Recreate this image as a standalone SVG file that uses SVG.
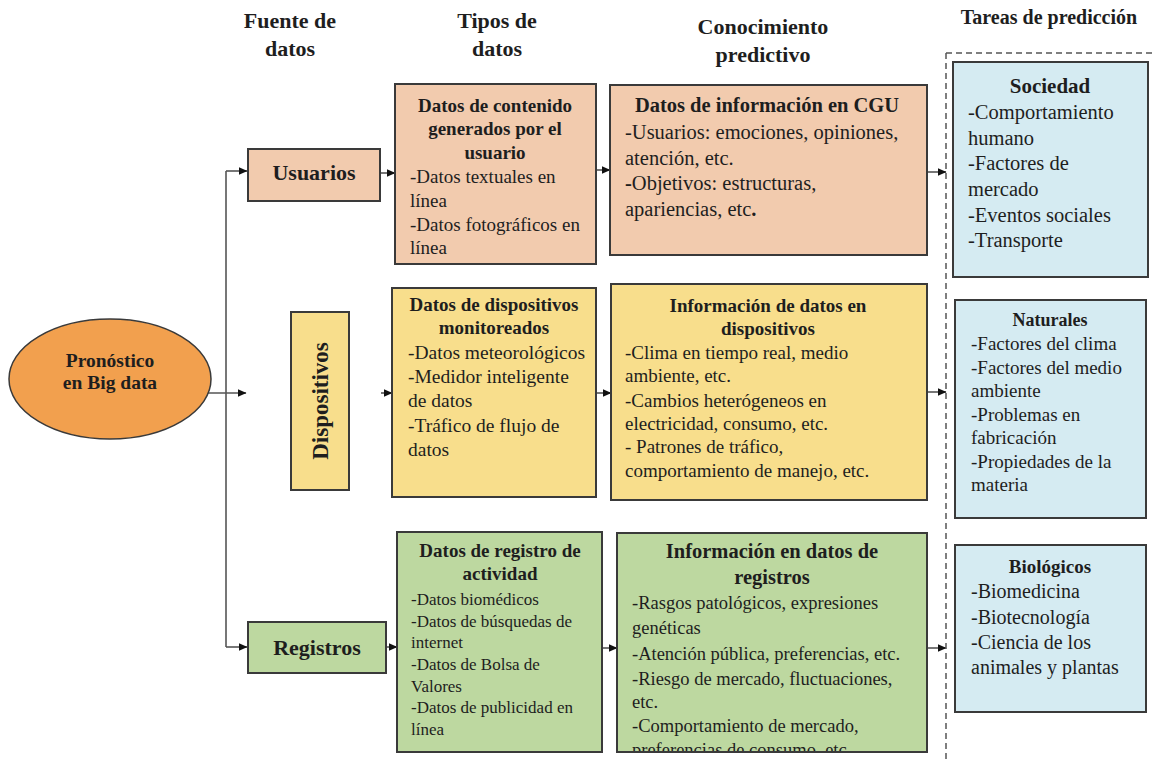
<svg xmlns="http://www.w3.org/2000/svg" width="1155" height="763" viewBox="0 0 1155 763">
<style>
text{font-family:"Liberation Serif","Times New Roman",serif;fill:#1e1e1e}
.hd{font-size:22px;font-weight:bold;text-anchor:middle}
.b{font-weight:bold;text-anchor:middle}
.box{stroke:#3a3a3a;stroke-width:2}
.or{fill:#F2CBAE}
.ye{fill:#F8DE8C}
.gr{fill:#BDD8A0}
.bl{fill:#D5EBF2}
.ln{fill:none;stroke:#555;stroke-width:1.6}
</style>
<defs>
<marker id="ar" markerWidth="9" markerHeight="8" refX="8.5" refY="4" orient="auto" markerUnits="userSpaceOnUse">
<path d="M0,0 L9,4 L0,8 z" fill="#111"/>
</marker>
<clipPath id="clipG"><rect x="617" y="534" width="310" height="217"/></clipPath>
</defs>
<rect width="1155" height="763" fill="#fff"/>

<g id="headers">
<text class="hd" x="290" y="28">Fuente de</text>
<text class="hd" x="290" y="56">datos</text>
<text class="hd" x="497" y="28">Tipos de</text>
<text class="hd" x="497" y="56">datos</text>
<text class="hd" x="763" y="34">Conocimiento</text>
<text class="hd" x="763" y="62">predictivo</text>
<text class="hd" x="1049" y="24" style="font-size:20px">Tareas de predicción</text>
</g>

<g id="connectors">
<path class="ln" d="M226,171 V647"/>
<path class="ln" d="M226,171 H247" marker-end="url(#ar)"/>
<path class="ln" d="M226,647 H247" marker-end="url(#ar)"/>
<path class="ln" d="M208,393 H246" marker-end="url(#ar)"/>
<path class="ln" d="M381,173 H395" marker-end="url(#ar)"/>
<path class="ln" d="M596,170 H610" marker-end="url(#ar)"/>
<path class="ln" d="M927,172 H946" marker-end="url(#ar)"/>
<path class="ln" d="M381,393 H392" marker-end="url(#ar)"/>
<path class="ln" d="M596,393 H611" marker-end="url(#ar)"/>
<path class="ln" d="M927,392 H946" marker-end="url(#ar)"/>
<path class="ln" d="M386,647 H397" marker-end="url(#ar)"/>
<path class="ln" d="M602,648 H617" marker-end="url(#ar)"/>
<path class="ln" d="M927,648 H946" marker-end="url(#ar)"/>
<path d="M946,53 H1155 M946,53 V763" fill="none" stroke="#555" stroke-width="1.5" stroke-dasharray="6 4"/>
</g>

<g id="pronostico">
<ellipse cx="110" cy="379" rx="101" ry="60" fill="#F2A04E" stroke="#3a3a3a" stroke-width="1.5"/>
<text class="b" x="110" y="367" style="font-size:19.5px">Pronóstico</text>
<text class="b" x="110" y="389" style="font-size:19.5px">en Big data</text>
</g>

<g id="usuarios">
<rect class="box or" x="248" y="149" width="132" height="52"/>
<text class="b" x="314" y="180" style="font-size:22px">Usuarios</text>
</g>

<g id="dispositivos">
<rect class="box ye" x="291" y="312" width="58" height="178"/>
<text class="b" transform="translate(328,401) rotate(-90)" style="font-size:23px">Dispositivos</text>
</g>

<g id="registros">
<rect class="box gr" x="248" y="622" width="138" height="51"/>
<text class="b" x="317" y="655" style="font-size:22px">Registros</text>
</g>

<g id="tipos-cgu" style="font-size:19px">
<rect class="box or" x="395" y="84" width="201" height="180"/>
<text class="b" x="495" y="112">Datos de contenido</text>
<text class="b" x="495" y="135">generados por el</text>
<text class="b" x="495" y="159">usuario</text>
<text x="410" y="183">-Datos textuales en</text>
<text x="410" y="207">línea</text>
<text x="410" y="231">-Datos fotográficos en</text>
<text x="410" y="254">línea</text>
</g>

<g id="tipos-disp" style="font-size:19px">
<rect class="box ye" x="392" y="288" width="204" height="209"/>
<text class="b" x="494" y="311">Datos de dispositivos</text>
<text class="b" x="494" y="334">monitoreados</text>
<text x="408" y="359" style="font-size:19.5px">-Datos meteorológicos</text>
<text x="408" y="383" style="font-size:19.5px">-Medidor inteligente</text>
<text x="408" y="407" style="font-size:19.5px">de datos</text>
<text x="408" y="432" style="font-size:19.5px">-Tráfico de flujo de</text>
<text x="408" y="456" style="font-size:19.5px">datos</text>
</g>

<g id="tipos-reg" style="font-size:17px">
<rect class="box gr" x="397" y="532" width="205" height="220"/>
<text class="b" x="500" y="557" style="font-size:19px">Datos de registro de</text>
<text class="b" x="500" y="580" style="font-size:19px">actividad</text>
<text x="411" y="605">-Datos biomédicos</text>
<text x="411" y="627">-Datos de búsquedas de</text>
<text x="411" y="648">internet</text>
<text x="411" y="670">-Datos de Bolsa de</text>
<text x="411" y="692">Valores</text>
<text x="411" y="713">-Datos de publicidad en</text>
<text x="411" y="735">línea</text>
</g>

<g id="conoc-cgu" style="font-size:20.5px">
<rect class="box or" x="610" y="85" width="317" height="170"/>
<text class="b" x="767" y="112">Datos de información en CGU</text>
<text x="625" y="139">-Usuarios: emociones, opiniones,</text>
<text x="625" y="164.5">atención, etc.</text>
<text x="625" y="190"><tspan font-weight="bold">-</tspan>Objetivos: estructuras,</text>
<text x="625" y="216">apariencias, etc<tspan font-weight="bold">.</tspan></text>
</g>

<g id="conoc-disp" style="font-size:19px">
<rect class="box ye" x="611" y="284" width="316" height="216"/>
<text class="b" x="768" y="312">Información de datos en</text>
<text class="b" x="768" y="335">dispositivos</text>
<text x="625" y="359">-Clima en tiempo real, medio</text>
<text x="625" y="382">ambiente, etc.</text>
<text x="625" y="407">-Cambios heterógeneos en</text>
<text x="625" y="430">electricidad, consumo, etc.</text>
<text x="625" y="453">- Patrones de tráfico,</text>
<text x="625" y="477">comportamiento de manejo, etc.</text>
</g>

<g id="conoc-reg" style="font-size:18.5px">
<rect class="box gr" x="617" y="533" width="310" height="219"/>
<g clip-path="url(#clipG)">
<text class="b" x="772" y="558" style="font-size:20.5px">Información en datos de</text>
<text class="b" x="772" y="584" style="font-size:20.5px">registros</text>
<text x="632" y="609">-Rasgos patológicos, expresiones</text>
<text x="632" y="634">genéticas</text>
<text x="632" y="660">-Atención pública, preferencias, etc.</text>
<text x="632" y="685">-Riesgo de mercado, fluctuaciones,</text>
<text x="632" y="708">etc.</text>
<text x="632" y="732">-Comportamiento de mercado,</text>
<text x="632" y="756">preferencias de consumo, etc.</text>
</g>
</g>

<g id="sociedad" style="font-size:20.5px">
<rect class="box bl" x="953" y="62" width="195" height="215"/>
<text class="b" x="1050" y="93" style="font-size:21px">Sociedad</text>
<text x="968" y="119">-Comportamiento</text>
<text x="968" y="145">humano</text>
<text x="968" y="170">-Factores de</text>
<text x="968" y="196">mercado</text>
<text x="968" y="222">-Eventos sociales</text>
<text x="968" y="247">-Transporte</text>
</g>

<g id="naturales" style="font-size:19px">
<rect class="box bl" x="955" y="300" width="191" height="218"/>
<text class="b" x="1050" y="326" style="font-size:18px">Naturales</text>
<text x="971" y="350">-Factores del clima</text>
<text x="971" y="373.5">-Factores del medio</text>
<text x="971" y="397">ambiente</text>
<text x="971" y="420.5">-Problemas en</text>
<text x="971" y="444">fabricación</text>
<text x="971" y="467.5">-Propiedades de la</text>
<text x="971" y="491">materia</text>
</g>

<g id="biologicos" style="font-size:20px">
<rect class="box bl" x="955" y="545" width="191" height="167"/>
<text class="b" x="1050" y="573" style="font-size:19px">Biológicos</text>
<text x="971" y="598">-Biomedicina</text>
<text x="971" y="624">-Biotecnología</text>
<text x="971" y="649">-Ciencia de los</text>
<text x="971" y="674">animales y plantas</text>
</g>
</svg>
